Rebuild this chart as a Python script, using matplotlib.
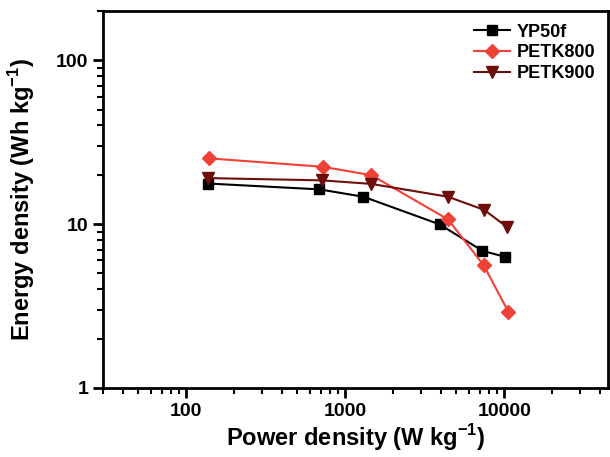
import matplotlib
matplotlib.use("Agg")
import matplotlib.pyplot as plt

plt.rcParams['font.family'] = ['Liberation Sans', 'DejaVu Sans']
plt.rcParams['font.weight'] = 'bold'
plt.rcParams['mathtext.fontset'] = 'custom'
plt.rcParams['mathtext.rm'] = 'Liberation Sans:bold'
plt.rcParams['mathtext.bf'] = 'Liberation Sans:bold'

# Ragone data
yp50f_power = [137, 688, 1300, 3930, 7290, 10100]
yp50f_energy = [17.7, 16.3, 14.7, 9.96, 6.87, 6.32]

petk800_power = [139, 721, 1460, 4420, 7430, 10600]
petk800_energy = [25.2, 22.4, 19.9, 10.7, 5.6, 2.92]

petk900_power = [137, 714, 1460, 4420, 7500, 10400]
petk900_energy = [19.1, 18.5, 17.6, 14.7, 12.2, 9.6]

fig = plt.figure(figsize=(6.1, 4.57), dpi=100)
ax = fig.add_axes([0.169, 0.151, 0.828, 0.825])

ax.plot(yp50f_power, yp50f_energy, color='black', marker='s', ms=7, lw=1.5, label='YP50f')
ax.plot(petk800_power, petk800_energy, color='#EF4136', marker='D', ms=7, lw=1.5, label='PETK800')
ax.plot(petk900_power, petk900_energy, color='#6E0E0A', marker='v', ms=8, lw=1.5, label='PETK900')

ax.set_xscale('log')
ax.set_yscale('log')
ax.set_xlim(30, 45000)
ax.set_ylim(1, 200)

ax.set_xticks([100, 1000, 10000])
ax.set_xticklabels(['100', '1000', '10000'])
ax.set_yticks([1, 10, 100])
ax.set_yticklabels(['1', '10', '100'])

for s in ax.spines.values():
    s.set_linewidth(2)
ax.tick_params(which='major', direction='out', length=7, width=2, labelsize=14)
ax.tick_params(which='minor', direction='out', length=4, width=1.5)

ax.set_xlabel(r'Power density (W kg$^{-1}$)', fontsize=17, fontweight='bold', labelpad=2)
ax.set_ylabel(r'Energy density (Wh kg$^{-1}$)', fontsize=17, fontweight='bold', labelpad=14)

ax.legend(loc='upper right', frameon=False, fontsize=13, handlelength=2.0,
          handletextpad=0.4, labelspacing=0.2, borderaxespad=0.3)

fig.savefig('out.png', dpi=100)
